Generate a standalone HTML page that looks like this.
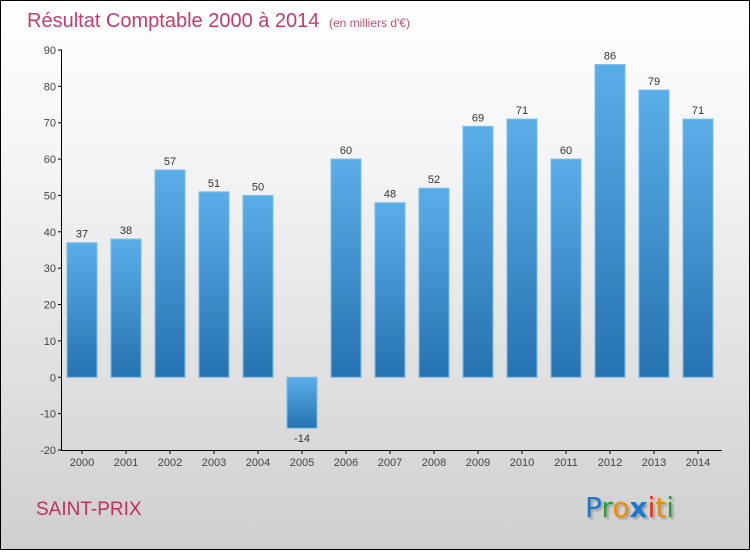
<!DOCTYPE html>
<html><head><meta charset="utf-8"><style>
body{margin:0}
#c{width:748px;height:548px;border:1px solid #000;background:linear-gradient(#fff,#f4f4f4 30%,#cfcfcf);position:relative;font-family:"Liberation Sans",sans-serif}
</style></head><body>
<div id="c">
<svg width="748" height="548" id="svg">
<defs><linearGradient id="g" x1="0" y1="0" x2="0" y2="1"><stop offset="0" stop-color="#5aaee8"/><stop offset="1" stop-color="#2573b0"/></linearGradient></defs>
<text x="26" y="26" font-size="20" fill="#c83a68">Résultat Comptable 2000 à 2014 <tspan font-size="12" fill="#c0507a" dx="4">(en milliers d'€)</tspan></text>
<text x="35" y="514" font-size="19" fill="#c0305e">SAINT-PRIX</text>
<g font-size="28" font-family="DejaVu Sans, sans-serif" style="filter:drop-shadow(2px 2px 1px rgba(0,0,0,0.25))">
<text x="584" y="516" fill="#1a78d0">P<tspan fill="#2a9a3a">r</tspan><tspan fill="#f08a00">o</tspan><tspan fill="#1a78d0" font-weight="bold">x</tspan><tspan fill="#e83010">i</tspan><tspan fill="#f08a00">t</tspan><tspan fill="#2a9a3a">i</tspan></text>
</g>
<g id="plot"></g>
</svg></div>
<script>
const years=["2000","2001","2002","2003","2004","2005","2006","2007","2008","2009","2010","2011","2012","2013","2014"];
const values=[37,38,57,51,50,-14,60,48,52,69,71,60,86,79,71];
const yTicks=[90,80,70,60,50,40,30,20,10,0,-10,-20];
const ns="http://www.w3.org/2000/svg";
const p=document.getElementById('plot');
const y=v=>49+(90-v)*(400/110);
const x=i=>81+i*44;
function el(t,a,par){const e=document.createElementNS(ns,t);for(const k in a)e.setAttribute(k,a[k]);(par||p).appendChild(e);return e;}
yTicks.forEach(v=>{
 const t=el('text',{x:55,y:y(v)+4,'font-size':11,fill:'#444','text-anchor':'end'});t.textContent=v;
 
 
 el('line',{x1:57,x2:61,y1:y(v),y2:y(v),stroke:'#000'});
});
const ax=el('line',{x1:60.5,x2:60.5,y1:y(90),y2:y(-20),stroke:'#000'});


const xa=el('line',{x1:60,x2:721,y1:y(-20)+.5,y2:y(-20)+.5,stroke:'#000'});


years.forEach((yr,i)=>{
 const v=values[i],top=y(Math.max(v,0)),bot=y(Math.min(v,0));
 const r=el('rect',{x:x(i)-15,y:top,width:30,height:bot-top,fill:'url(#g)',stroke:'#7bbcec','stroke-width':1});
 
 
 const l=el('text',{x:x(i),y:v>=0?top-5:bot+14,'font-size':11,fill:'#333','text-anchor':'middle'});l.textContent=v;
 
 
 el('line',{x1:x(i),x2:x(i),y1:y(-20),y2:y(-20)+4,stroke:'#000'});
 const t=el('text',{x:x(i),y:465,'font-size':11,fill:'#444','text-anchor':'middle'});t.textContent=yr;
 
 
});
</script></body></html>
